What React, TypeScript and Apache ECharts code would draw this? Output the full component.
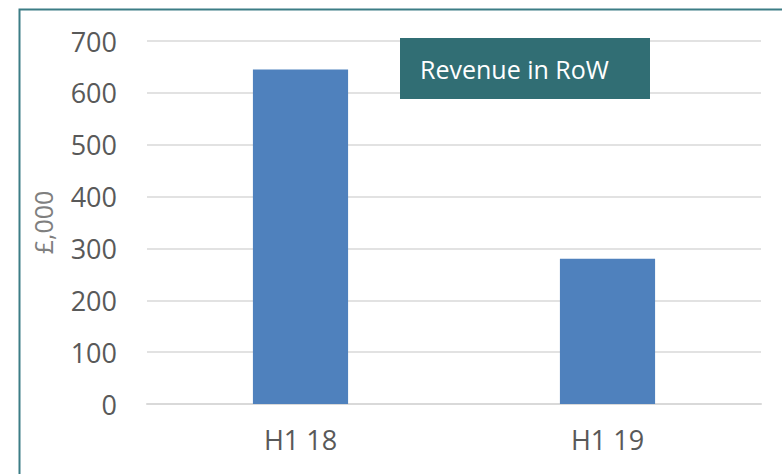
import React, { useEffect, useRef } from "react";
import * as echarts from "echarts";

const categories = ["H1 18", "H1 19"];
const revenue = [645, 280];
const yTicks = [0, 100, 200, 300, 400, 500, 600, 700];
const title = "Revenue in RoW";
const yName = "£,000";

export default function App() {
  const ref = useRef<HTMLDivElement>(null);
  useEffect(() => {
    const chart = echarts.init(ref.current!, null, { renderer: "svg" });
    chart.setOption({
      animation: false,
      backgroundColor: "#ffffff",
      grid: { left: 147, right: 21, top: 41, bottom: 70, containLabel: false },
      xAxis: {
        type: "category",
        data: categories,
        axisLine: { lineStyle: { color: "#d9d9d9", width: 2 } },
        axisTick: { show: false },
        axisLabel: { color: "#595959", fontSize: 27, fontFamily: "Open Sans", margin: 22 },
      },
      yAxis: {
        type: "value",
        min: yTicks[0],
        max: yTicks[yTicks.length - 1],
        interval: 100,
        name: yName,
        nameLocation: "middle",
        nameGap: 92,
        nameRotate: 90,
        nameTextStyle: { color: "#7f7f7f", fontSize: 25, fontFamily: "Open Sans" },
        axisLine: { show: false },
        axisTick: { show: false },
        splitLine: { lineStyle: { color: "#d9d9d9", width: 1.5 } },
        axisLabel: { color: "#595959", fontSize: 27, fontFamily: "Open Sans", margin: 30 },
      },
      series: [
        {
          type: "bar",
          data: revenue,
          barWidth: "31%",
          itemStyle: { color: "#4f81bd" },
        },
      ],
      graphic: [
        {
          type: "rect",
          left: 17,
          top: 7,
          z: 100,
          shape: { x: 0, y: 0, width: 800, height: 500 },
          style: { fill: "none", stroke: "#3c7d86", lineWidth: 2 },
          silent: true,
        },
        {
          type: "group",
          left: 400,
          top: 38,
          z: 100,
          children: [
            {
              type: "rect",
              z: 100,
              shape: { x: 0, y: 0, width: 250, height: 61 },
              style: { fill: "#316e74" },
            },
            {
              type: "text",
              z: 101,
              x: 20,
              y: 31,
              style: {
                text: title,
                fill: "#ffffff",
                fontSize: 25,
                fontFamily: "Open Sans",
                verticalAlign: "middle",
              },
            },
          ],
        },
      ],
    });
    return () => chart.dispose();
  }, []);
  return (
    <div style={{ position: "fixed", left: 0, top: 0, width: 782, height: 474 }}>
      <div ref={ref} style={{ width: 782, height: 474 }} />
    </div>
  );
}
